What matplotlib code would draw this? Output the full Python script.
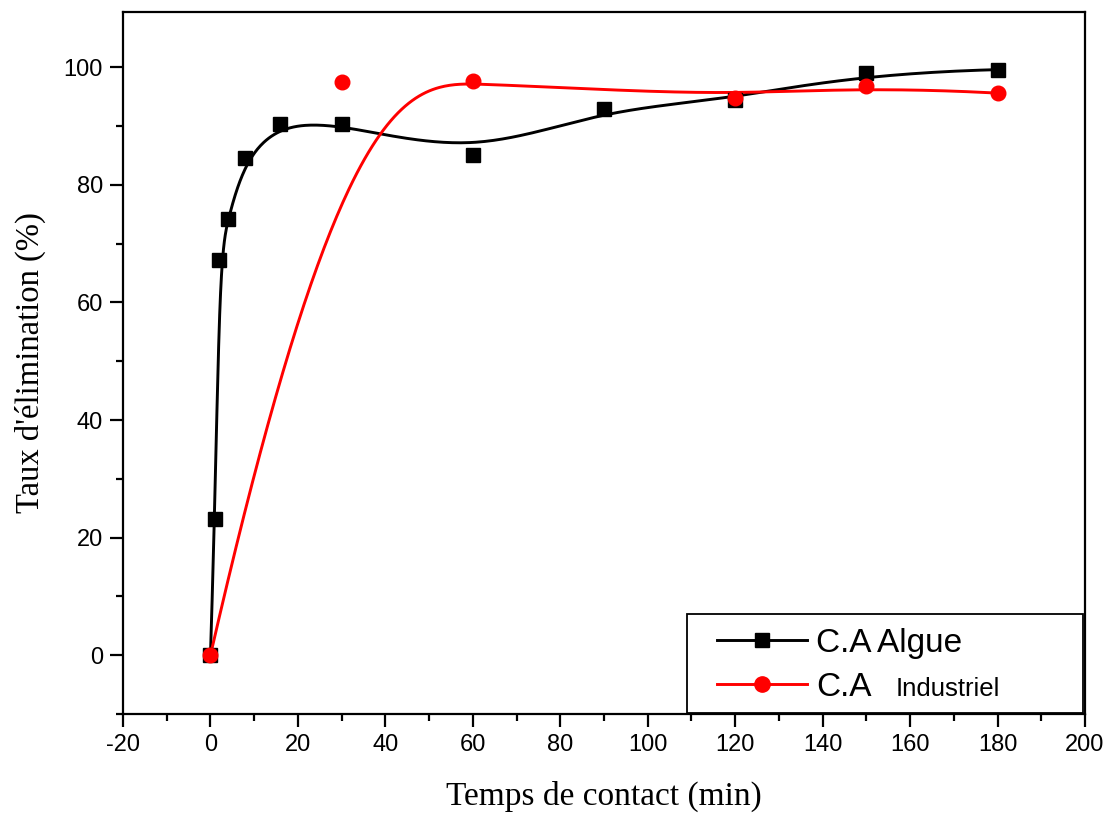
import numpy as np
import matplotlib.pyplot as plt
from matplotlib.patches import Rectangle
from matplotlib.ticker import MultipleLocator

plt.rcParams['axes.unicode_minus'] = False

# contact time (min) and removal rate (%)
t_algue = [0, 1, 2, 4, 8, 16, 30, 60, 90, 120, 150, 180]
r_algue = [0, 23.1, 67.3, 74.2, 84.5, 90.4, 90.4, 85.0, 92.9, 94.5, 99.0, 99.6]

t_indus = [0, 30, 60, 120, 150, 180]
r_indus = [0, 97.5, 97.6, 94.7, 96.8, 95.6]


def bspline(xs, ys, k=3, num=400):
    '''clamped uniform B-spline using the points as control polygon'''
    pts = np.column_stack([xs, ys]).astype(float)
    n = len(pts)
    inner = np.linspace(0, 1, n - k + 1)
    knots = np.concatenate([np.zeros(k), inner, np.ones(k)])
    u = np.linspace(0, 1, num)
    out = []
    for uu in u:
        # de Boor
        if uu >= 1.0:
            j = n - 1
        else:
            j = np.searchsorted(knots, uu, side='right') - 1
        d = [pts[j - k + r].copy() for r in range(k + 1)]
        for r in range(1, k + 1):
            for s in range(k, r - 1, -1):
                i = j - k + s
                den = knots[i + k + 1 - r] - knots[i]
                a = 0.0 if den == 0 else (uu - knots[i]) / den
                d[s] = (1 - a) * d[s - 1] + a * d[s]
        out.append(d[k])
    out = np.array(out)
    return out[:, 0], out[:, 1]


W, H = 1115, 826
AX_L, AX_T, AX_W, AX_H = 123, 12, 962, 702
fig = plt.figure(figsize=(W / 100, H / 100), dpi=100)
ax = fig.add_axes([AX_L / W, 1 - (AX_T + AX_H) / H, AX_W / W, AX_H / H])


def px(x, y):
    # pixel position -> axes fraction
    return (x - AX_L) / AX_W, (AX_T + AX_H - y) / AX_H


bx, by = bspline(t_algue, r_algue)
ix, iy = bspline(t_indus, r_indus)

ax.plot(bx, by, color='black', lw=2.1)
ax.plot(ix, iy, color='red', lw=2.1)
ax.plot(t_algue, r_algue, 's', color='black', ms=9.5)
ax.plot(t_indus, r_indus, 'o', color='red', ms=10.5)

# legend proxies
ax.plot([], [], '-s', color='black', lw=2.1, ms=10, label='C.A Algue')
ax.plot([], [], '-o', color='red', lw=2.1, ms=11, label='C.A')

ax.set_xlim(-20, 200)
ax.set_ylim(-10, 109.4)
ax.xaxis.set_major_locator(MultipleLocator(20))
ax.xaxis.set_minor_locator(MultipleLocator(10))
ax.yaxis.set_major_locator(MultipleLocator(20))
ax.yaxis.set_minor_locator(MultipleLocator(10))
ax.tick_params(which='major', direction='out', length=9.5, width=1.6,
               labelsize=17, pad=5, top=False, right=False)
ax.tick_params(which='minor', direction='out', length=5, width=1.6,
               top=False, right=False)
for lab in ax.get_xticklabels() + ax.get_yticklabels():
    lab.set_fontfamily('Liberation Sans')
for sp in ax.spines.values():
    sp.set_linewidth(1.6)

ax.set_xlabel('Temps de contact (min)', family='Liberation Serif', fontsize=24)
ax.set_ylabel("Taux d'élimination (%)", family='Liberation Serif', fontsize=23.5)
ax.xaxis.set_label_coords(0.5, (714 - 781) / 702)
ax.yaxis.set_label_coords((46 - 123) / 962, 0.5)

# legend box
x0, y0 = px(687, 713)
x1, y1 = px(1083, 614)
ax.add_patch(Rectangle((x0, y0), x1 - x0, y1 - y0, transform=ax.transAxes,
                       facecolor='white', edgecolor='black', lw=1.3,
                       zorder=4, clip_on=False))

leg_handles = [h for h in ax.get_lines() if not h.get_label().startswith('_')]
leg = ax.legend(handles=leg_handles, loc='upper left',
                bbox_to_anchor=px(717, 628),
                prop={'family': 'Liberation Sans', 'size': 24},
                frameon=False, handlelength=2.7, handletextpad=0.27,
                borderaxespad=0, borderpad=0, labelspacing=0.38)
leg.set_zorder(5)

# smaller second word of the red label
ax.annotate('Industriel', xy=(1, 0), xycoords=leg.get_texts()[1],
            xytext=(24, 2), textcoords='offset pixels', va='bottom',
            family='Liberation Sans', fontsize=18.5, zorder=10)

fig.savefig('out.png', dpi=100)
